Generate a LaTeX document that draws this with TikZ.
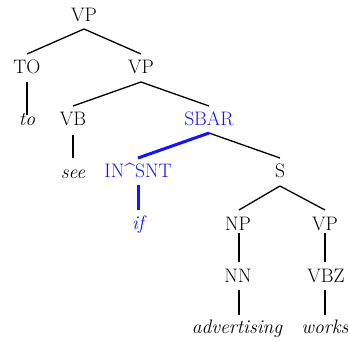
\documentclass[tikz,border=0pt]{standalone}
\definecolor{hl}{RGB}{20,20,255}
\begin{document}
\begin{tikzpicture}[x=1pt,y=-1pt,
  lab/.style={anchor=base,inner sep=0pt,font=\fontsize{19.5}{23}\selectfont},
  word/.style={lab,font=\fontsize{19.5}{23}\selectfont\itshape},
  br/.style={line width=1.3pt,black},
  hbr/.style={line width=3pt,hl}]
\useasboundingbox (0,0) rectangle (348,341);
% row baselines
\node[lab] (vp1) at (84,21) {VP};
\node[lab] (to) at (27,73) {TO};
\node[lab] (vp2) at (141,73) {VP};
\node[word] (wto) at (27,125) {to};
\node[lab] (vb) at (73,125) {VB};
\node[lab,text=hl] (sbar) at (209,125) {SBAR};
\node[word] (wsee) at (73,178) {see};
\node[lab,text=hl] (in) at (138,177) {IN\textasciicircum SNT};
\node[lab] (s) at (280,177) {S};
\node[word,text=hl] (wif) at (138,229) {if};
\node[lab] (np) at (238,230) {NP};
\node[lab] (vp3) at (325,230) {VP};
\node[lab] (nn) at (238,282) {NN};
\node[lab] (vbz) at (326,282) {VBZ};
\node[word] (wadv) at (237,333) {advertising};
\node[word] (wworks) at (325,333) {works};
% branches
\draw[br] ([yshift=-8pt]vp1.base) -- ([yshift=19pt]to.base);
\draw[br] ([yshift=-8pt]vp1.base) -- ([yshift=19pt]vp2.base);
\draw[br] ([yshift=-9pt]to.base) -- ([yshift=10pt]to.base |- wto.base);
\draw[br] ([yshift=-9pt]vp2.base) -- ([yshift=19pt]vb.base);
\draw[br] ([yshift=-9pt]vp2.base) -- ([yshift=19pt]sbar.base);
\draw[br] ([yshift=-10pt]vb.base) -- ([yshift=20pt]vb.base |- wsee.base);
\draw[hbr] ([yshift=-8pt]sbar.base) -- ([yshift=19pt]in.base);
\draw[br] ([yshift=-8pt]sbar.base) -- ([yshift=19pt]s.base);
\draw[hbr] ([yshift=-8pt]in.base) -- ([yshift=19pt]in.base |- wif.base);
\draw[br] ([yshift=-9pt]s.base) -- ([yshift=20pt,xshift=1pt]np.base);
\draw[br] ([yshift=-9pt]s.base) -- ([yshift=20pt]vp3.base);
\draw[br] ([yshift=-3pt,xshift=1pt]np.base) -- ([yshift=20pt,xshift=1pt]np.base |- nn.base);
\draw[br] ([yshift=-3pt]vp3.base) -- ([yshift=20pt]vp3.base |- vbz.base);
\draw[br] ([yshift=-8pt,xshift=1pt]np.base |- nn.base) -- ([yshift=18pt,xshift=1pt]np.base |- wadv.base);
\draw[br] ([yshift=-8pt]vp3.base |- vbz.base) -- ([yshift=18pt]vp3.base |- wworks.base);
\end{tikzpicture}
\end{document}
